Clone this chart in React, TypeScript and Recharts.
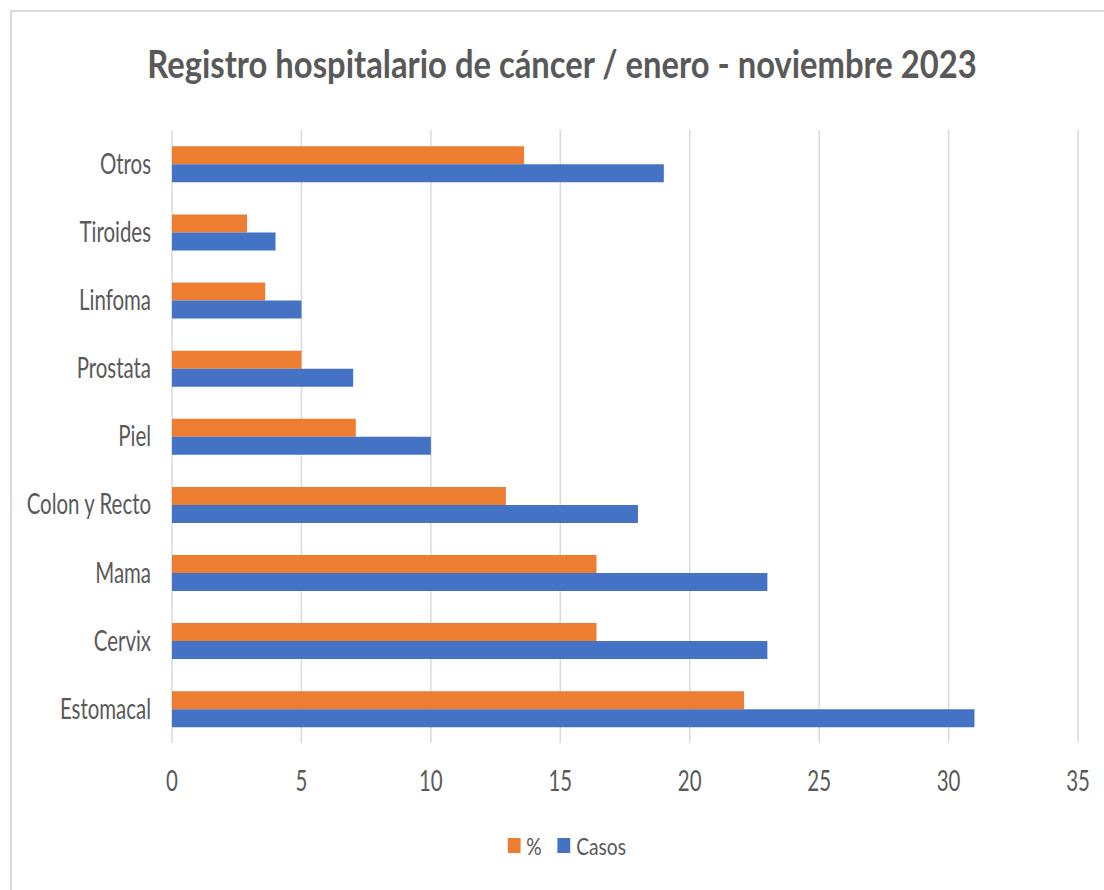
import { BarChart, Bar, XAxis, YAxis, CartesianGrid } from 'recharts';

// categories top to bottom (as they appear in the chart)
const categories = ['Otros', 'Tiroides', 'Linfoma', 'Prostata', 'Piel', 'Colon y Recto', 'Mama', 'Cervix', 'Estomacal'];
const casos = [19, 4, 5, 7, 10, 18, 23, 23, 31];
const porcentaje = [13.6, 2.9, 3.6, 5.0, 7.1, 12.9, 16.4, 16.4, 22.1];
const xTicks = [0, 5, 10, 15, 20, 25, 30, 35];

const data = categories.map((name, i) => ({ name, pct: porcentaje[i], casos: casos[i] }));

const FONT = 'Lato, "Liberation Sans", sans-serif';
const TEXT = '#595959';
const ORANGE = '#ED7D31';
const BLUE = '#4472C4';
const SX = 0.73; // the reference text is narrow, squeeze horizontally

const YTick = ({ x, y, payload }: any) => (
  <text
    transform={`translate(${x},${y - 1}) scale(${SX},1)`}
    textAnchor="end"
    dominantBaseline="central"
    fontSize={28}
    fontFamily={FONT}
    fill={TEXT}
  >
    {payload.value}
  </text>
);

const XTick = ({ x, y, payload }: any) => (
  <text
    transform={`translate(${x},${y}) scale(${SX},1)`}
    textAnchor="middle"
    dominantBaseline="central"
    fontSize={28}
    fontFamily={FONT}
    fill={TEXT}
  >
    {payload.value}
  </text>
);

export default function App() {
  return (
    <div style={{ position: 'absolute', left: 0, top: 0, width: 1104, height: 890, overflow: 'hidden', background: '#fff' }}>
      <div style={{ position: 'absolute', left: 10, top: 10, width: 1120, height: 900, border: '2px solid #D9D9D9', boxSizing: 'border-box' }} />
      <div
        style={{
          position: 'absolute',
          left: 0,
          top: 44,
          width: 1124,
          textAlign: 'center',
          fontFamily: FONT,
          fontWeight: 700,
          fontSize: 39,
          lineHeight: '39px',
          color: TEXT,
          whiteSpace: 'nowrap',
          transform: 'scaleX(0.84)',
          transformOrigin: '562px 0',
        }}
      >
        Registro hospitalario de cáncer / enero - noviembre 2023
      </div>

      <div style={{ position: 'absolute', left: 0, top: 0 }}>
        <BarChart
          width={1104}
          height={890}
          data={data}
          layout="vertical"
          margin={{ top: 130, right: 26, bottom: 117, left: 0 }}
          barCategoryGap="24%"
          barGap={0}
        >
          <CartesianGrid horizontal={false} stroke="#D9D9D9" strokeWidth={1.5} />
          <XAxis
            type="number"
            domain={[0, 35]}
            ticks={xTicks}
            axisLine={false}
            tickLine={false}
            tickSize={0}
            tickMargin={37}
            height={30}
            tick={<XTick />}
            interval={0}
          />
          <YAxis
            type="category"
            dataKey="name"
            width={172}
            axisLine={false}
            tickLine={false}
            tickSize={0}
            tickMargin={21}
            tick={<YTick />}
            interval={0}
          />
          <Bar dataKey="pct" name="%" fill={ORANGE} isAnimationActive={false} />
          <Bar dataKey="casos" name="Casos" fill={BLUE} isAnimationActive={false} />
        </BarChart>
      </div>

      <div
        style={{
          position: 'absolute',
          left: 0,
          top: 831,
          width: 1134,
          display: 'flex',
          justifyContent: 'center',
          alignItems: 'center',
          fontFamily: FONT,
          fontSize: 24,
          color: TEXT,
          transform: 'scaleX(0.8)',
          transformOrigin: '567px 0',
        }}
      >
        {[{ label: '%', color: ORANGE }, { label: 'Casos', color: BLUE }].map((item) => (
          <div key={item.label} style={{ display: 'flex', alignItems: 'center', margin: '0 10px' }}>
            <span style={{ display: 'inline-block', width: 16, height: 15, background: item.color, marginRight: 7 }} />
            <span>{item.label}</span>
          </div>
        ))}
      </div>
    </div>
  );
}
